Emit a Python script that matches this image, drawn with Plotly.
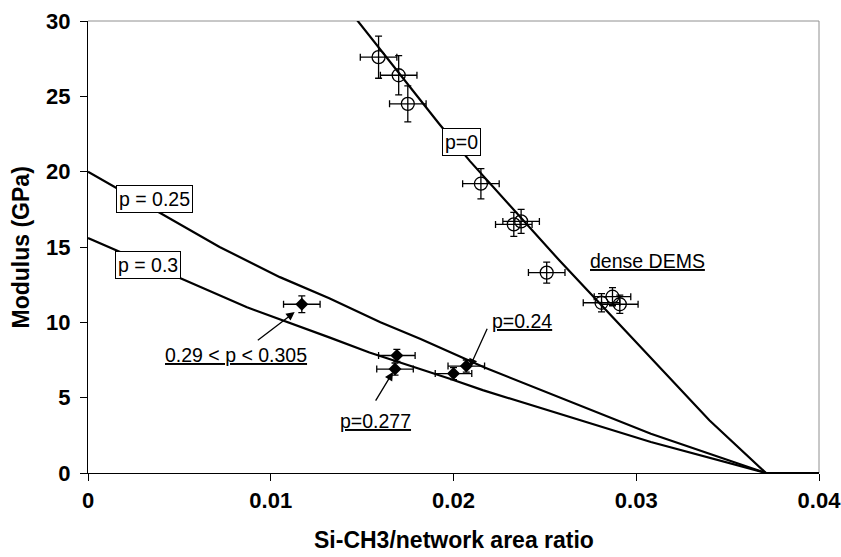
import plotly.graph_objects as go

# ---- data ----
dems_x = [0.0159, 0.0170, 0.0175, 0.0215, 0.0233, 0.0237, 0.0251, 0.0281, 0.0287, 0.0291]
dems_y = [27.6, 26.4, 24.5, 19.2, 16.5, 16.7, 13.3, 11.3, 11.7, 11.2]
dems_yerr = [1.4, 1.3, 1.2, 1.0, 0.8, 0.8, 0.7, 0.6, 0.6, 0.6]
dems_xerr = [0.001, 0.001, 0.001, 0.001, 0.001, 0.001, 0.001, 0.001, 0.001, 0.001]

por_x = [0.0117, 0.0169, 0.0168, 0.0200, 0.0207]
por_y = [11.2, 7.8, 6.9, 6.6, 7.1]
por_yerr = [0.55, 0.4, 0.4, 0.4, 0.4]
por_xerr = [0.001, 0.001, 0.001, 0.001, 0.001]

p0_x = [0.0145, 0.0192, 0.0209, 0.0258, 0.0340, 0.0371, 0.0400]
p0_y = [30.4, 23.2, 20.7, 14.1, 3.5, 0.0, 0.0]

p25_x = [0.0, 0.0039, 0.0072, 0.0105, 0.0132, 0.0160, 0.0182, 0.0217, 0.0308, 0.0371, 0.0400]
p25_y = [20.0, 17.3, 15.0, 13.0, 11.6, 10.0, 8.9, 7.0, 2.6, 0.0, 0.0]

p30_x = [0.0, 0.0052, 0.0087, 0.0132, 0.0154, 0.0198, 0.0216, 0.0308, 0.0371, 0.0400]
p30_y = [15.6, 12.85, 11.0, 9.0, 8.0, 6.26, 5.5, 2.06, 0.0, 0.0]

x_ticks = [0, 0.01, 0.02, 0.03, 0.04]
x_ticklabels = ["0", "0.01", "0.02", "0.03", "0.04"]
y_ticks = [0, 5, 10, 15, 20, 25, 30]

FONT = "Arial, Liberation Sans, sans-serif"

fig = go.Figure()

for xs, ys in [(p0_x, p0_y), (p25_x, p25_y), (p30_x, p30_y)]:
    fig.add_trace(go.Scatter(x=xs, y=ys, mode="lines",
                             line=dict(color="black", width=2.2),
                             hoverinfo="skip", showlegend=False))

fig.add_trace(go.Scatter(
    x=dems_x, y=dems_y, mode="markers",
    marker=dict(symbol="circle-open", size=13, color="black", line=dict(width=1.3)),
    error_x=dict(type="data", array=dems_xerr, color="black", thickness=1.3, width=3.5),
    error_y=dict(type="data", array=dems_yerr, color="black", thickness=1.3, width=3.5),
    showlegend=False))

fig.add_trace(go.Scatter(
    x=por_x, y=por_y, mode="markers",
    marker=dict(symbol="diamond", size=10, color="black"),
    error_x=dict(type="data", array=por_xerr, color="black", thickness=1.3, width=3.5),
    error_y=dict(type="data", array=por_yerr, color="black", thickness=1.3, width=3.5),
    showlegend=False))

ann = []
# boxed curve labels
for txt, x, y in [("p=0", 0.02043, 21.98), ("p = 0.25", 0.00363, 18.18), ("p = 0.3", 0.0033, 13.78)]:
    ann.append(dict(x=x, y=y, xref="x", yref="y", text=txt, showarrow=False,
                    font=dict(family=FONT, size=19.5, color="black"),
                    bgcolor="white", bordercolor="black", borderwidth=1, borderpad=2))
# underlined labels
for txt, x, y in [("dense DEMS", 0.03064, 14.1), ("p=0.24", 0.02374, 10.1),
                  ("p=0.277", 0.01574, 3.45), ("0.29 < p < 0.305", 0.00808, 7.85)]:
    ann.append(dict(x=x, y=y, xref="x", yref="y", text=txt, showarrow=False,
                    font=dict(family=FONT, size=19.5, color="black", lineposition="under")))
# arrows (head x,y ; tail ax,ay)
for hx, hy, tx, ty in [(0.01131, 10.68, 0.00921, 8.74), (0.01669, 6.70, 0.01569, 4.71),
                       (0.02089, 7.03, 0.02188, 9.67)]:
    ann.append(dict(x=hx, y=hy, ax=tx, ay=ty, xref="x", yref="y", axref="x", ayref="y",
                    text="", showarrow=True, arrowhead=2, arrowsize=1.3, arrowwidth=1.3,
                    arrowcolor="black", standoff=0, startstandoff=0))
# axis titles
ann.append(dict(x=-0.091, y=0.5, xref="paper", yref="paper", xanchor="center", yanchor="middle",
                text="<b>Modulus (GPa)</b>", textangle=-90, showarrow=False,
                font=dict(family=FONT, size=23, color="black")))
ann.append(dict(x=0.5, y=-0.148, xref="paper", yref="paper", xanchor="center", yanchor="middle",
                text="<b>Si-CH3/network area ratio</b>", showarrow=False,
                font=dict(family=FONT, size=23, color="black")))

shapes = [
    dict(type="line", xref="paper", yref="paper", x0=0, x1=1, y0=1, y1=1,
         line=dict(color="#909090", width=1), layer="below"),
    dict(type="line", xref="paper", yref="paper", x0=1, x1=1, y0=0, y1=1,
         line=dict(color="#909090", width=1), layer="below"),
]

fig.update_layout(
    template="none",
    width=841, height=557,
    margin=dict(l=88, r=22, t=21, b=84, autoexpand=False),
    paper_bgcolor="white", plot_bgcolor="white",
    font=dict(family=FONT, color="black"),
    annotations=ann, shapes=shapes, showlegend=False,
    xaxis=dict(range=[0, 0.04], tickvals=x_ticks, ticktext=x_ticklabels, automargin=False,
               showgrid=False, zeroline=False, showline=True, linecolor="black", linewidth=1,
               ticks="outside", ticklen=7, tickcolor="black", ticklabeloverflow="allow",
               tickfont=dict(family=FONT, size=22, color="black", weight="bold"),
               ticklabelstandoff=1),
    yaxis=dict(range=[0, 30], tickvals=y_ticks, automargin=False,
               showgrid=False, zeroline=False, showline=True, linecolor="black", linewidth=1,
               ticks="outside", ticklen=7, tickcolor="black", ticklabeloverflow="allow",
               tickfont=dict(family=FONT, size=22, color="black", weight="bold"),
               ticklabelstandoff=5),
)

fig.write_html("out.html", config={"displayModeBar": False},
               post_script="document.body.style.margin='0';document.body.style.overflow='hidden';")
